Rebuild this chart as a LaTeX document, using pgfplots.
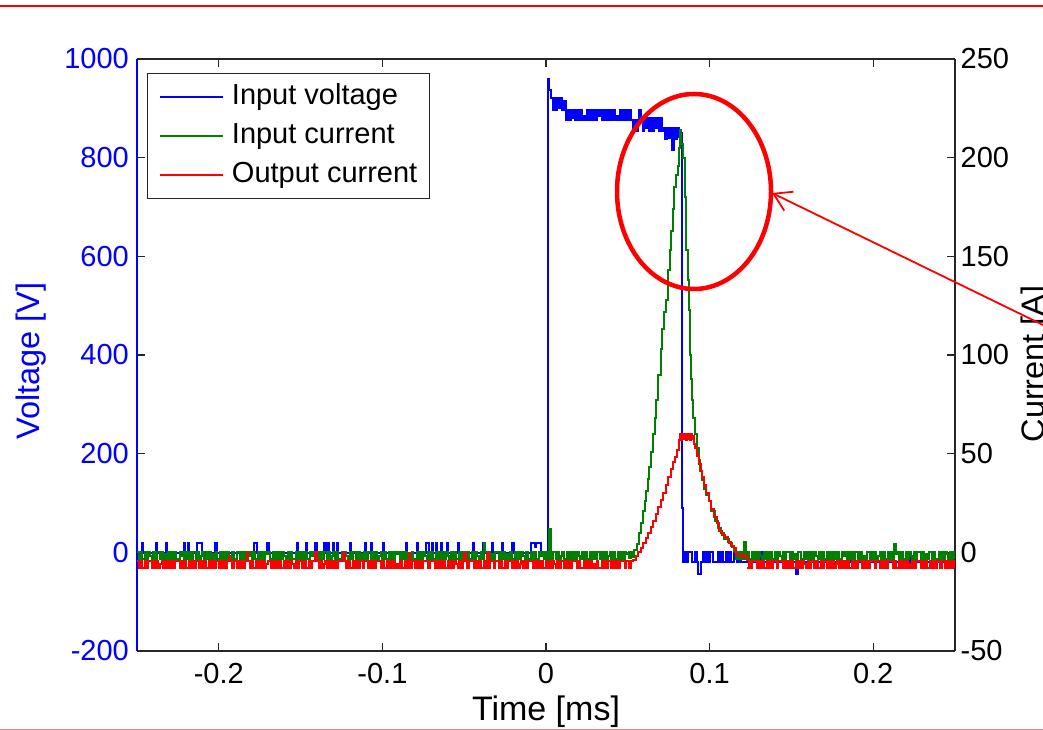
\documentclass[border=0pt]{standalone}
\usepackage{fontspec}
\setmainfont{Liberation Sans}
\usepackage{pgfplots}
\usepackage{pgfplotstable}
\pgfplotsset{compat=1.18}
\usetikzlibrary{arrows.meta}

\definecolor{mblue}{RGB}{0,0,255}
\definecolor{mgreen}{RGB}{0,128,0}
\definecolor{mred}{RGB}{255,0,0}
\definecolor{lred}{RGB}{240,128,128}
\definecolor{axgray}{RGB}{38,38,38}

% Input current, noise before the pulse, t = -0.25 ... 0.05 ms, step 0.001
\pgfplotstableread[row sep=\\]{v\\
0\\-3.5\\0\\-3.5\\-3.5\\0\\-3.5\\0\\-2\\-3.5\\0\\-3.5\\0\\0\\-3.5\\0\\-3.5\\-1\\-3.5\\0\\
-3.5\\0\\-3.5\\0\\-3.5\\-3.5\\0\\-2\\0\\-3.5\\0\\-3.5\\0\\-3.5\\0\\0\\-3.5\\0\\-3.5\\-2\\
0\\-3.5\\0\\-3.5\\0\\-3.5\\-1\\-3.5\\0\\-3.5\\-3.5\\0\\-3.5\\0\\-3.5\\0\\-2\\-3.5\\0\\-3.5\\
-3.5\\0\\0\\-3.5\\0\\-3.5\\0\\-3.5\\-2\\0\\-3.5\\0\\-3.5\\-3.5\\0\\-3.5\\0\\-3.5\\0\\-1\\
0\\-3.5\\-3.5\\0\\-3.5\\0\\-3.5\\0\\-3.5\\0\\-2\\-3.5\\0\\-3.5\\0\\-3.5\\-3.5\\0\\-3.5\\0\\
-3.5\\0\\-3.5\\0\\-3.5\\-3.5\\0\\-2\\0\\-3.5\\0\\-3.5\\0\\-3.5\\0\\0\\-3.5\\0\\-3.5\\-2\\
0\\-3.5\\0\\-3.5\\-3.5\\0\\-3.5\\0\\-2\\-3.5\\0\\-3.5\\0\\0\\-3.5\\0\\-3.5\\-1\\-3.5\\0\\
-3.5\\0\\0\\-3.5\\0\\-3.5\\0\\-3.5\\-2\\0\\-3.5\\0\\-3.5\\-3.5\\0\\-3.5\\0\\-3.5\\0\\-1\\
0\\-3.5\\0\\-3.5\\0\\-3.5\\-1\\-3.5\\0\\-3.5\\-3.5\\0\\-3.5\\0\\-3.5\\0\\-2\\-3.5\\0\\-3.5\\
0\\-3.5\\-3.5\\0\\-3.5\\0\\-3.5\\0\\-3.5\\0\\-2\\-3.5\\0\\-3.5\\0\\-3.5\\-3.5\\0\\-3.5\\0\\
0\\-3.5\\0\\-3.5\\-3.5\\0\\-3.5\\0\\-2\\-3.5\\0\\-3.5\\4.5\\0\\-3.5\\0\\-3.5\\-1\\-3.5\\0\\
0\\-3.5\\0\\-3.5\\0\\-3.5\\-1\\-3.5\\0\\-3.5\\-3.5\\0\\-3.5\\0\\-3.5\\0\\-2\\-3.5\\0\\-3.5\\
-3.5\\0\\-3.5\\0\\-3.5\\-3.5\\0\\-2\\0\\-3.5\\0\\-3.5\\12\\-3.5\\0\\0\\-3.5\\0\\-3.5\\-2\\
0\\-3.5\\-3.5\\0\\-3.5\\0\\-3.5\\0\\-3.5\\0\\-2\\-3.5\\0\\-3.5\\0\\-3.5\\-3.5\\0\\-3.5\\0\\
-3.5\\0\\0\\-3.5\\0\\-3.5\\0\\-3.5\\-2\\0\\-3.5\\0\\-3.5\\-3.5\\0\\-3.5\\0\\-3.5\\0\\-1\\
0\\
}\gpre

% Input current, after the pulse, t = 0.115 ... 0.25 ms
\pgfplotstableread[row sep=\\]{v\\
0\\-3.5\\0\\-3.5\\0\\-3.5\\5\\-3.5\\0\\-3.5\\-3.5\\0\\-3.5\\0\\-3.5\\0\\-2\\-3.5\\0\\-3.5\\
0\\-3.5\\0\\-3.5\\-3.5\\0\\-3.5\\0\\-2\\-3.5\\0\\-3.5\\0\\0\\-3.5\\0\\-3.5\\-1\\-3.5\\0\\
0\\-3.5\\-3.5\\0\\-3.5\\0\\-3.5\\0\\-3.5\\0\\-2\\-3.5\\0\\-3.5\\0\\-3.5\\-3.5\\0\\-3.5\\0\\
-3.5\\0\\-3.5\\0\\-3.5\\-3.5\\0\\-2\\0\\-3.5\\0\\-3.5\\0\\-3.5\\0\\0\\-3.5\\0\\-3.5\\-2\\
-3.5\\0\\0\\-3.5\\0\\-3.5\\0\\-3.5\\-2\\0\\-3.5\\0\\-3.5\\-3.5\\0\\-3.5\\0\\-3.5\\4\\-1\\
0\\-3.5\\0\\-3.5\\-3.5\\0\\-3.5\\0\\-2\\-3.5\\0\\-3.5\\0\\0\\-3.5\\0\\-3.5\\-1\\-3.5\\0\\
0\\-3.5\\0\\-3.5\\-3.5\\0\\-3.5\\0\\-3.5\\0\\-1\\-3.5\\0\\-3.5\\0\\-3.5\\
}\gpost

% Output current, noise before the pulse, t = -0.25 ... 0.05 ms
\pgfplotstableread[row sep=\\]{v\\
-4.5\\-7.8\\-4.5\\-7.8\\-7.8\\-4.5\\-7.8\\-4.5\\-4.5\\-7.8\\-4.5\\-7.8\\-4.5\\-7.8\\-6\\-4.5\\-7.8\\-4.5\\-7.8\\-4.5\\
-7.8\\-4.5\\-7.8\\-4.5\\-4.5\\-4.5\\-7.8\\-4.5\\-7.8\\-4.5\\-7.8\\-7.8\\-4.5\\-7.8\\-4.5\\-7.8\\-4.5\\-4.5\\-7.8\\-4.5\\
-7.8\\-4.5\\-7.8\\-7.8\\-4.5\\-7.8\\-4.5\\-7.8\\-4.5\\-4.5\\-7.8\\-4.5\\-7.8\\-4.5\\-7.8\\-4.5\\-2\\-4.5\\-7.8\\-4.5\\
-4.5\\-7.8\\-4.5\\-7.8\\-4.5\\-7.8\\-4.5\\0\\-4.5\\-7.8\\-4.5\\-7.8\\-7.8\\-4.5\\-7.8\\-4.5\\-7.8\\-4.5\\-7.8\\-6\\
-4.5\\-4.5\\-7.8\\-4.5\\-7.8\\-4.5\\-7.8\\-4.5\\-7.8\\-7.8\\-4.5\\-7.8\\-4.5\\-7.8\\-4.5\\-6\\-7.8\\-4.5\\-7.8\\-4.5\\
-4.5\\-7.8\\-4.5\\-7.8\\-7.8\\-4.5\\-7.8\\-4.5\\-4.5\\0\\-4.5\\-7.8\\-4.5\\-7.8\\-6\\-4.5\\-7.8\\-4.5\\-7.8\\-4.5\\
-7.8\\-4.5\\-7.8\\-4.5\\-4.5\\-4.5\\-0.5\\-4.5\\-7.8\\-4.5\\-7.8\\-7.8\\-4.5\\-7.8\\-4.5\\-7.8\\-4.5\\-4.5\\-7.8\\-4.5\\
-4.5\\-7.8\\-4.5\\-7.8\\-4.5\\-7.8\\-4.5\\-4.5\\-4.5\\-7.8\\-4.5\\-7.8\\-7.8\\-4.5\\-7.8\\-4.5\\-7.8\\-4.5\\-7.8\\-6\\
-7.8\\-4.5\\-7.8\\-7.8\\-4.5\\-7.8\\-0.5\\-7.8\\-4.5\\-4.5\\-7.8\\-4.5\\-7.8\\-4.5\\-7.8\\-4.5\\-4.5\\-4.5\\-7.8\\-4.5\\
-4.5\\-4.5\\-7.8\\-4.5\\-7.8\\-4.5\\-7.8\\-4.5\\-7.8\\-7.8\\-4.5\\-7.8\\-4.5\\-7.8\\-4.5\\-6\\-7.8\\-4.5\\-7.8\\-4.5\\
-0.5\\-4.5\\-7.8\\-4.5\\-4.5\\-4.5\\-7.8\\-4.5\\-7.8\\-4.5\\-7.8\\-7.8\\-4.5\\-7.8\\-0.5\\-7.8\\-4.5\\-4.5\\-7.8\\-4.5\\
-4.5\\-7.8\\-4.5\\-7.8\\-7.8\\-4.5\\-7.8\\-4.5\\-4.5\\-7.8\\-4.5\\-7.8\\-4.5\\-7.8\\-6\\-4.5\\-7.8\\-4.5\\-7.8\\-4.5\\
-4.5\\-4.5\\-7.8\\-4.5\\-7.8\\-4.5\\-7.8\\-4.5\\-7.8\\-7.8\\-4.5\\-7.8\\-4.5\\-7.8\\-4.5\\-6\\-7.8\\-4.5\\-7.8\\-4.5\\
-4.5\\-7.8\\-4.5\\-7.8\\-4.5\\-7.8\\-4.5\\-4.5\\-4.5\\-7.8\\-4.5\\-7.8\\-7.8\\-4.5\\-7.8\\-4.5\\-7.8\\-4.5\\-7.8\\-6\\
-7.8\\-4.5\\-7.8\\-7.8\\-4.5\\-7.8\\-4.5\\-7.8\\-4.5\\-4.5\\-7.8\\-4.5\\-7.8\\-4.5\\-7.8\\-4.5\\-4.5\\-4.5\\-7.8\\-4.5\\
-4.5\\
}\rpre

% Output current, after the pulse, t = 0.123 ... 0.25 ms
\pgfplotstableread[row sep=\\]{v\\
-7.8\\-4.5\\-7.8\\-4.5\\-4.5\\-4.5\\-7.8\\-4.5\\-7.8\\-4.5\\-7.8\\-7.8\\-4.5\\-7.8\\-4.5\\-7.8\\-4.5\\-4.5\\-7.8\\-4.5\\
-4.5\\-4.5\\-7.8\\-4.5\\-7.8\\-4.5\\-7.8\\-4.5\\-7.8\\-7.8\\-4.5\\-7.8\\-4.5\\-7.8\\-4.5\\-6\\-7.8\\-4.5\\-7.8\\-4.5\\
-4.5\\-7.8\\-4.5\\-7.8\\-7.8\\-4.5\\-7.8\\-4.5\\-4.5\\-7.8\\-4.5\\-7.8\\-4.5\\-7.8\\-6\\-4.5\\-7.8\\-4.5\\-7.8\\-4.5\\
-7.8\\-4.5\\-7.8\\-7.8\\-4.5\\-7.8\\-4.5\\-7.8\\-4.5\\-4.5\\-7.8\\-4.5\\-7.8\\-4.5\\-7.8\\-4.5\\-4.5\\-4.5\\-7.8\\-4.5\\
-4.5\\-7.8\\-4.5\\-7.8\\-4.5\\-7.8\\-4.5\\-4.5\\-4.5\\-7.8\\-4.5\\-7.8\\-7.8\\-4.5\\-7.8\\-4.5\\-7.8\\-4.5\\-7.8\\-6\\
-7.8\\-4.5\\-7.8\\-4.5\\-4.5\\-4.5\\-7.8\\-4.5\\-7.8\\-4.5\\-7.8\\-7.8\\-4.5\\-7.8\\-4.5\\-7.8\\-4.5\\-4.5\\-7.8\\-4.5\\
-4.5\\-7.8\\-4.5\\-7.8\\-4.5\\-7.8\\-4.5\\-7.8\\
}\rpost

% Input voltage, top of the pulse, t = 0 ... 0.081 ms
\pgfplotstableread[row sep=\\]{v\\
-1\\959\\937\\920\\896\\920\\896\\920\\900\\920\\896\\915\\876\\896\\876\\896\\880\\
896\\876\\896\\876\\896\\876\\885\\876\\896\\876\\
896\\876\\896\\876\\896\\885\\896\\876\\896\\876\\
896\\876\\896\\876\\896\\876\\885\\876\\896\\876\\
896\\876\\896\\876\\896\\876\\855\\876\\855\\876\\
896\\876\\855\\
880\\860\\880\\855\\880\\855\\880\\860\\880\\855\\
880\\855\\860\\837\\860\\840\\860\\815\\860\\837\\
860\\840\\
}\btop

% Input voltage, drop and after, t = 0.081 ... 0.25 ms
\pgfplotstableread[row sep=\\]{v\\
840\\850\\90\\
-20\\0\\-20\\0\\0\\-20\\-20\\0\\-20\\-43\\
-43\\-20\\0\\-20\\0\\-20\\0\\0\\-20\\-20\\
-20\\0\\-20\\0\\-20\\-20\\0\\-20\\0\\-20\\
-20\\0\\0\\-20\\0\\-20\\-20\\
-20\\-20\\0\\-20\\-20\\0\\-20\\-20\\-20\\-20\\
0\\-20\\-20\\-20\\-20\\-20\\-20\\-20\\-20\\0\\
-20\\-20\\-20\\-20\\-20\\-20\\-20\\-20\\-20\\-20\\
-20\\-20\\-43\\-20\\-20\\-20\\-20\\-20\\-20\\-20\\
-20\\-20\\-20\\-20\\-20\\-20\\-20\\0\\-20\\-20\\
-20\\-20\\-20\\-20\\-20\\-20\\-20\\-20\\-20\\-20\\
-20\\-20\\-20\\-20\\0\\-20\\-20\\-20\\-20\\-20\\
-20\\-20\\-20\\-20\\-20\\-20\\-20\\-20\\-20\\0\\
-20\\-20\\-20\\-20\\-20\\-20\\-20\\-20\\-20\\-20\\
-20\\-20\\-20\\-20\\-20\\-20\\-20\\-20\\-20\\-20\\
-20\\0\\-20\\-20\\-20\\-20\\-20\\-20\\-20\\-20\\
-20\\-20\\-20\\-20\\-20\\-20\\-20\\-20\\-20\\0\\
-20\\-20\\-20\\-20\\-20\\-20\\-20\\0\\-20\\-20\\
}\bpost

\pgfplotsset{
  common/.style={
    at={(137pt,79pt)}, anchor=south west,
    scale only axis, width=818pt, height=592pt,
    xmin=-0.25, xmax=0.25,
    axis line style={axgray, line width=1.3pt},
    tick align=inside, major tick length=8pt,
    tick style={axgray, line width=1.3pt},
    tick label style={font=\fontsize{29}{35}\selectfont},
    label style={font=\fontsize{32.5}{38}\selectfont},
  },
  dline/.style={line width=2pt, const plot, line join=miter, line cap=butt},
}

\begin{document}
\begin{tikzpicture}
\useasboundingbox (0pt,0pt) rectangle (1043pt,730pt);

\begin{axis}[common,
  ymin=-200, ymax=1000,
  axis x line*=box, axis y line*=left,
  y axis line style={mblue},
  xtick={-0.2,-0.1,0,0.1,0.2}, xticklabels={-0.2,-0.1,0,0.1,0.2},
  ytick={-200,0,200,400,600,800,1000},
  yticklabels={-200,0,200,400,600,800,1000},
  xticklabel style={anchor=north, inner sep=0pt, yshift=-12pt},
  yticklabel style={anchor=east, inner sep=0pt, xshift=-8pt, text=mblue},
  xlabel={Time [ms]}, ylabel={Voltage [V]},
  xlabel style={at={(axis description cs:0.5,-0.1182)}, anchor=base, font=\fontsize{34}{40}\selectfont},
  ylabel style={at={(axis description cs:-0.1186,0.49)}, anchor=base, text=mblue},
]
\addplot[mblue, dline] coordinates {
(-0.2500,-1)(-0.2470,18)(-0.2462,-1)(-0.2384,18)(-0.2376,-1)(-0.2323,18)(-0.2315,-1)
(-0.2213,18)(-0.2205,-1)(-0.2188,18)(-0.2180,-1)(-0.2131,18)(-0.2102,-1)(-0.2022,18)
(-0.2014,-1)(-0.1787,18)(-0.1765,-1)(-0.1703,18)(-0.1695,-1)(-0.1525,18)(-0.1517,-1)
(-0.1470,18)(-0.1462,-1)(-0.1409,18)(-0.1401,-1)(-0.1354,18)(-0.1346,-1)(-0.1335,18)
(-0.1327,-1)(-0.1305,18)(-0.1297,-1)(-0.1280,18)(-0.1272,-1)(-0.1200,18)(-0.1192,-1)
(-0.1108,18)(-0.1100,-1)(-0.1071,18)(-0.1063,-1)(-0.0998,18)(-0.0990,-1)(-0.0857,18)
(-0.0849,-1)(-0.0789,18)(-0.0781,-1)(-0.0732,18)(-0.0716,-1)(-0.0697,18)(-0.0689,-1)
(-0.0673,18)(-0.0665,-1)(-0.0642,18)(-0.0634,-1)(-0.0605,18)(-0.0597,-1)(-0.0538,18)
(-0.0530,-1)(-0.0446,18)(-0.0438,-1)(-0.0384,18)(-0.0376,-1)(-0.0329,18)(-0.0321,-1)
(-0.0268,18)(-0.0260,-1)(-0.0206,18)(-0.0198,-1)(-0.0094,18)(-0.0070,10)(-0.0062,18)
(-0.0030,-1)(0.0000,-1)};
\addplot[mblue, dline] table[x expr=\coordindex*0.001, y=v] \btop;
\addplot[mblue, dline] table[x expr=\coordindex*0.001+0.081, y=v] \bpost;
\end{axis}

\begin{axis}[common,
  ymin=-50, ymax=250,
  axis x line=none, axis y line*=right,
  xtick=\empty,
  ytick={-50,0,50,100,150,200,250},
  yticklabels={-50,0,50,100,150,200,250},
  yticklabel style={anchor=west, inner sep=0pt, xshift=5.5pt},
  ylabel={Current [A]},
  ylabel style={at={(axis description cs:1.110,0.485)}, anchor=base},
  legend style={at={(axis description cs:0.0122,0.9764)}, anchor=north west,
    draw=axgray, line width=1.1pt, fill=white,
    font=\fontsize{29}{35}\selectfont,
    inner xsep=12pt, inner ysep=10pt, row sep=12pt,
    nodes={inner sep=0pt, text height=21pt, text depth=6pt},
    /tikz/every odd column/.append style={column sep=8pt}},
  legend cell align=left,
  legend image code/.code={\draw[#1] (0pt,0pt) -- (63pt,0pt);},
]
\addlegendimage{mblue, line width=1.4pt}\addlegendentry{Input voltage}
\addlegendimage{mgreen, line width=1.4pt}\addlegendentry{Input current}
\addlegendimage{mred, line width=1.4pt}\addlegendentry{Output current}

\addplot[mgreen, dline, forget plot] table[x expr=\coordindex*0.001-0.25, y=v] \gpre;
\addplot[mgreen, dline, forget plot] coordinates {
(0.050,0)(0.051,-3)(0.052,0)(0.053,-2.5)(0.054,1)(0.0555,4)(0.0571,9.6)(0.0583,15)
(0.0595,21)(0.0604,26)(0.0613,31)(0.0622,37)(0.0632,43)(0.0644,51)(0.0656,60)(0.0665,68)
(0.0675,77)(0.0687,90)(0.0700,103)(0.0712,113)(0.0724,122)(0.0736,128)(0.0748,143)
(0.0755,153)(0.0767,163)(0.0776,174)(0.0785,185)(0.0795,191)(0.0804,196)(0.0810,205)
(0.0816,214)(0.0828,207)(0.0840,200)(0.0847,180)(0.0853,153)(0.0865,138)(0.0871,123)
(0.0878,100)(0.0884,88)(0.0890,77)(0.0899,68)(0.0908,60)(0.0920,53)(0.0933,47)
(0.0942,41)(0.0951,36.5)(0.0965,32)(0.0980,29)(0.0994,26)(0.1010,21)(0.1030,16)
(0.1050,12.5)(0.1070,9.6)(0.1090,7)(0.1117,4.6)(0.1135,2.5)(0.1150,0)};
\addplot[mgreen, dline, forget plot] table[x expr=\coordindex*0.001+0.115, y=v] \gpost;

\addplot[mred, dline, forget plot] table[x expr=\coordindex*0.001-0.25, y=v] \rpre;
\addplot[mred, dline, forget plot] coordinates {
(0.050,-4.5)(0.051,-7.8)(0.052,-4.5)(0.0534,-4)(0.0549,-2)(0.0564,0)(0.058,2.3)
(0.0595,4.6)(0.061,7.3)(0.0626,10)(0.064,13)(0.0656,16)(0.0672,19.5)(0.0687,23)
(0.0703,26.5)(0.0718,30)(0.0733,34)(0.0748,38)(0.0763,42)(0.0779,45.6)(0.0788,48.5)
(0.0798,51.7)(0.081,56.8)(0.0822,60)(0.0828,57)(0.0834,60)(0.0840,57.5)(0.0847,60)
(0.0853,57)(0.0860,60)(0.0866,57.5)(0.0872,60)(0.0878,57)(0.0884,60)(0.0890,57.5)
(0.0896,59)(0.0902,55)(0.0908,53)(0.0920,49)(0.0933,45)(0.0945,41)(0.0951,38)
(0.0965,34)(0.0980,30)(0.0994,26)(0.1010,22)(0.1025,18)(0.1043,14.7)(0.1060,11)
(0.1076,9)(0.1092,7.6)(0.1110,5)(0.1130,3)(0.1147,2)(0.1160,-1.5)(0.1200,-2.5)
(0.1210,-1.5)(0.123,-4.5)};
\addplot[mred, dline, forget plot] table[x expr=\coordindex*0.001+0.123, y=v] \rpost;
\end{axis}

% slide decorations and annotation
\draw[mred, line width=2.5pt] (0pt,724pt) -- (1043pt,724pt);
\draw[lred, line width=0.8pt] (0pt,1pt) -- (1043pt,1pt);
\draw[mred, line width=4.5pt] (694pt,538.5pt) ellipse [x radius=77pt, y radius=97.5pt];
\draw[mred, line width=1.8pt, -{Straight Barb[length=17pt,width=21pt]}] (1100pt,377.3pt) -- (772pt,537pt);
\end{tikzpicture}
\end{document}
